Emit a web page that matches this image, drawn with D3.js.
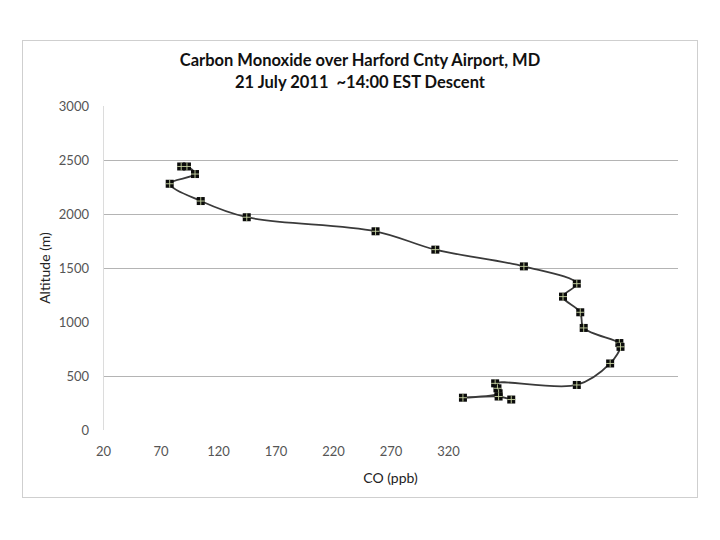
<!DOCTYPE html>
<html>
  <head>
    <meta charset="utf-8">
    <script src="https://cdn.jsdelivr.net/npm/d3@7/dist/d3.min.js" charset="utf-8"></script>
    <style>
      body { margin: 0; background: #fff; }
    </style>
  </head>
  <body>
    <script type="text/javascript">
      var w = 720;
      var h = 540;

      // CO (ppb) and altitude (m), in descent order
      var co       = [88, 93, 100, 78, 105, 145, 257, 309, 386, 432, 420, 435, 438, 469, 470, 461, 432, 361, 363, 364, 333, 364, 375];
      var altitude = [2440, 2440, 2370, 2280, 2120, 1970, 1840, 1670, 1515, 1355, 1235, 1090, 945, 805, 770, 616, 417, 432, 386, 340, 299, 310, 282];

      var xTicks = [20, 70, 120, 170, 220, 270, 320];
      var yTicks = [0, 500, 1000, 1500, 2000, 2500, 3000];
      var gridLines = [500, 1500, 2000, 2500];

      var titleLines = ["Carbon Monoxide over Harford Cnty Airport, MD", "21 July 2011  ~14:00 EST Descent"];

      var points = co.map(function(d, i){ return {x: d, y: altitude[i]}; });

      var svg = d3.select("body")
                  .append("svg")
                    .attr("width", w)
                    .attr("height", h);

      // Chart frame
      svg.append("rect")
         .attr("x", 22.5).attr("y", 40.5)
         .attr("width", 675).attr("height", 457)
         .attr("fill", "#fff")
         .attr("stroke", "#cfcfcf");

      var x = d3.scaleLinear().domain([20, 520]).range([103, 678]);
      var y = d3.scaleLinear().domain([0, 3000]).range([430, 106]);

      // Gridlines
      svg.selectAll("line.grid")
         .data(gridLines)
         .enter()
         .append("line")
           .attr("class", "grid")
           .attr("x1", x(20)).attr("x2", x(520))
           .attr("y1", function(d){ return Math.round(y(d)) + 0.5; })
           .attr("y2", function(d){ return Math.round(y(d)) + 0.5; })
           .attr("stroke", "#b4b4b4")
           .attr("stroke-width", 1);

      // Vertical axis line
      svg.append("line")
         .attr("x1", x(20) + 0.5).attr("x2", x(20) + 0.5)
         .attr("y1", y(3000)).attr("y2", y(0))
         .attr("stroke", "#dcdcdc");

      // Axes
      var yAxis = svg.append("g")
         .attr("transform", "translate(" + (x(20) - 14) + ",0)")
         .call(d3.axisLeft(y).tickValues(yTicks).tickFormat(d3.format("d")).tickSize(0).tickPadding(0));
      yAxis.select(".domain").remove();
      yAxis.selectAll("text")
           .attr("font-family", "Lato, 'Open Sans', sans-serif")
           .attr("font-size", 13)
           .attr("fill", "#555");

      var xAxis = svg.append("g")
         .attr("transform", "translate(0," + y(0) + ")")
         .call(d3.axisBottom(x).tickValues(xTicks).tickSize(0).tickPadding(17));
      xAxis.select(".domain").remove();
      xAxis.selectAll("text")
           .attr("font-family", "Lato, 'Open Sans', sans-serif")
           .attr("font-size", 13)
           .attr("fill", "#555");

      // Axis titles
      svg.append("text")
         .text("CO (ppb)")
         .attr("x", (x(20) + x(520)) / 2)
         .attr("y", 483)
         .attr("text-anchor", "middle")
         .attr("font-family", "Lato, 'Open Sans', sans-serif")
         .attr("font-size", 14)
         .attr("fill", "#222");

      svg.append("text")
         .text("Altitude (m)")
         .attr("transform", "translate(50,268) rotate(-90)")
         .attr("text-anchor", "middle")
         .attr("font-family", "Lato, 'Open Sans', sans-serif")
         .attr("font-size", 14)
         .attr("fill", "#222");

      // Title
      svg.selectAll("text.title")
         .data(titleLines)
         .enter()
         .append("text")
           .attr("class", "title")
           .text(function(d){ return d; })
           .attr("x", 360)
           .attr("y", function(d, i){ return 66 + i * 22; })
           .attr("text-anchor", "middle")
           .style("white-space", "pre")
           .attr("font-family", "Lato, 'Open Sans', sans-serif")
           .attr("font-weight", "bold")
           .attr("font-size", 16.5)
           .attr("fill", "#111");

      // Smoothed profile line
      var line = d3.line()
                   .x(function(d){ return x(d.x); })
                   .y(function(d){ return y(d.y); })
                   .curve(d3.curveCatmullRom.alpha(0.5));

      svg.append("path")
         .datum(points)
         .attr("d", line)
         .attr("fill", "none")
         .attr("stroke", "#3a3a3a")
         .attr("stroke-width", 1.8);

      // Markers: black squares split by a light cross
      var m = 8;
      var marks = svg.selectAll("g.mark")
         .data(points)
         .enter()
         .append("g")
           .attr("class", "mark")
           .attr("transform", function(d){ return "translate(" + x(d.x) + "," + y(d.y) + ")"; });

      marks.append("rect")
           .attr("x", -m / 2).attr("y", -m / 2)
           .attr("width", m).attr("height", m)
           .attr("fill", "#0b0b0b");

      marks.append("path")
           .attr("d", "M" + (-m / 2) + ",0H" + (m / 2) + "M0," + (-m / 2) + "V" + (m / 2))
           .attr("stroke", "#c9d6a4")
           .attr("stroke-width", 0.9);
    </script>
  </body>
</html>
